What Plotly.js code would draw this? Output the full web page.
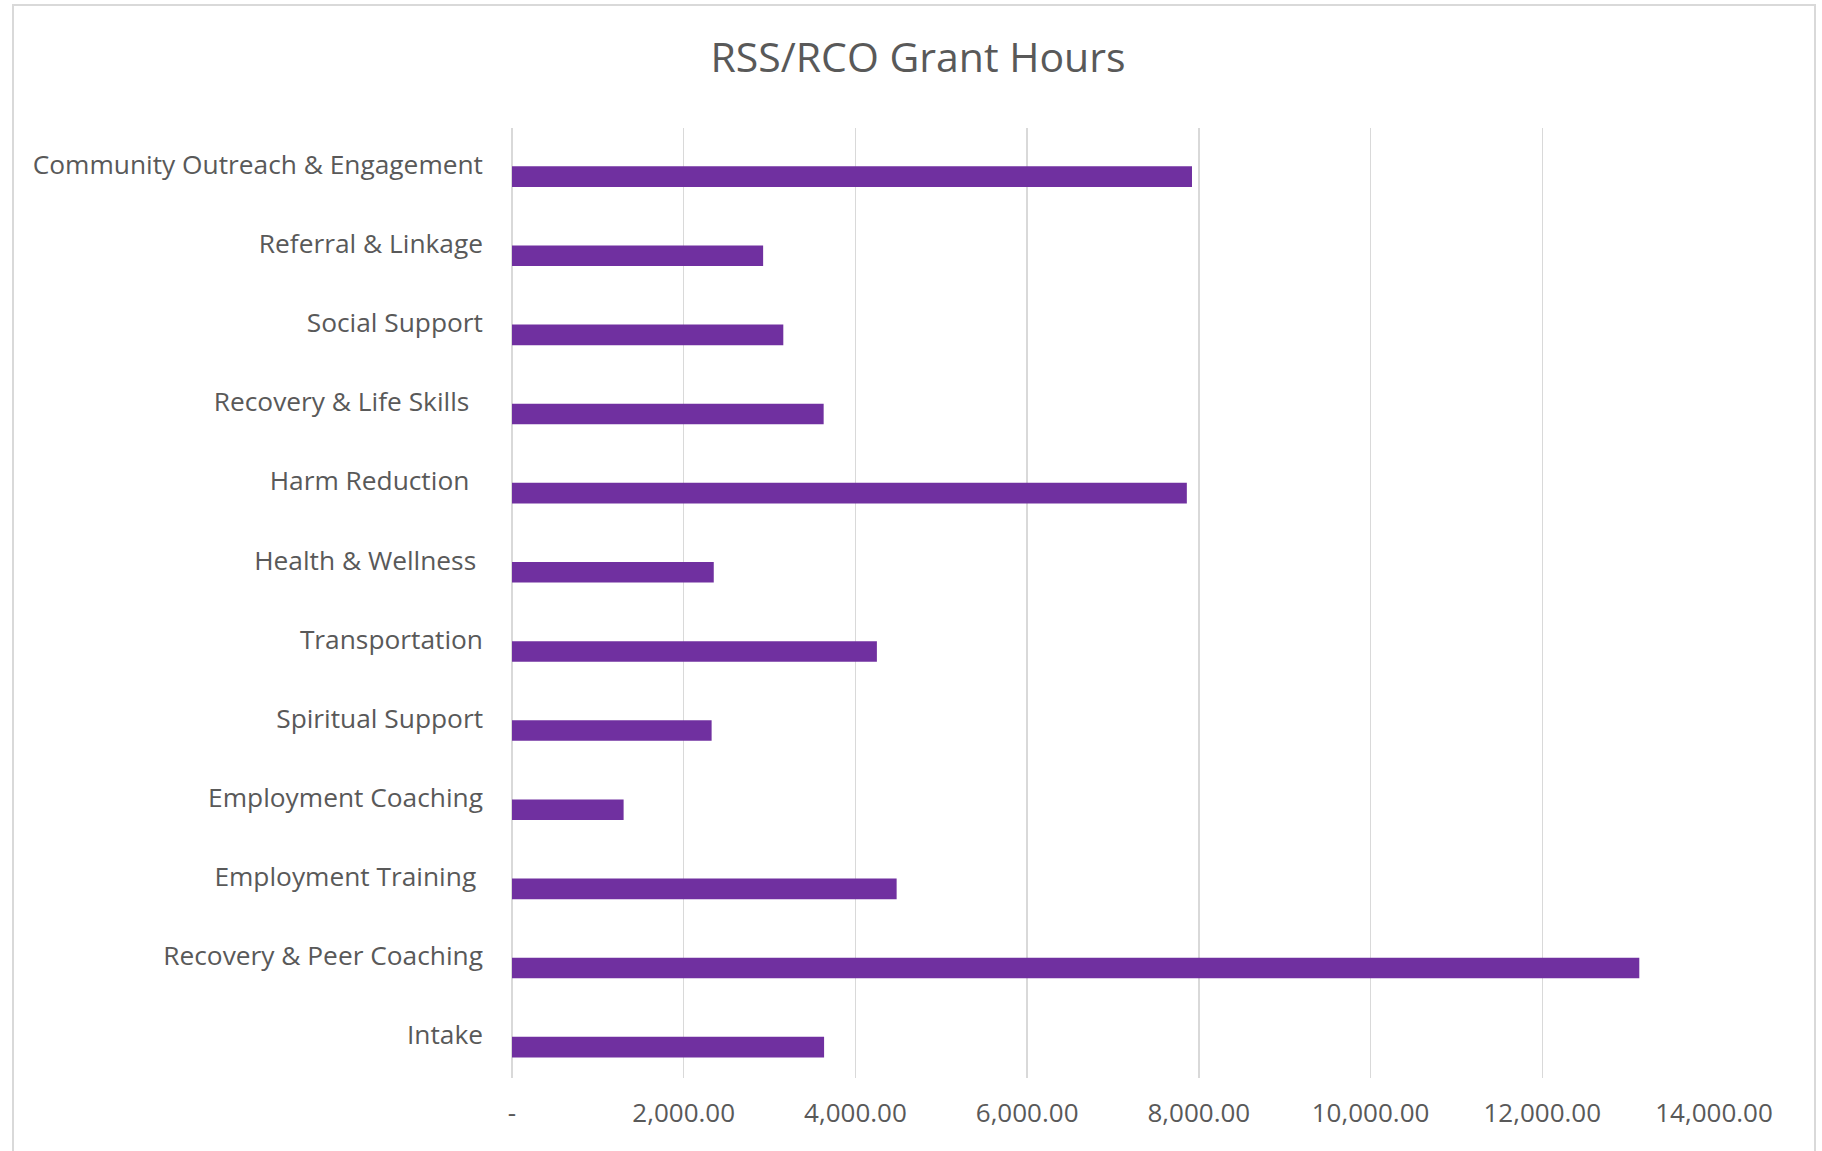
<!DOCTYPE html>
<html>
<head>
<meta charset="utf-8">
<script src="https://cdn.plot.ly/plotly-3.0.1.min.js"></script>
<style>
  html, body { margin: 0; padding: 0; background: #ffffff; }
  #chart { width: 1822px; height: 1151px; }
</style>
</head>
<body>
<div id="chart"></div>
<script>
// Categories listed bottom-to-top (Plotly draws the first category at the bottom)
const categories = [
  "Intake",
  "Recovery & Peer Coaching",
  "Employment Training",
  "Employment Coaching",
  "Spiritual Support",
  "Transportation",
  "Health & Wellness",
  "Harm Reduction",
  "Recovery & Life Skills",
  "Social Support",
  "Referral & Linkage",
  "Community Outreach & Engagement"
];
// Trailing spaces seen in the original labels
const labelTrailingSpaces = [0, 0, 1, 0, 0, 0, 1, 2, 2, 0, 0, 0];

const grantHours = [3635, 13130, 4480, 1300, 2325, 4250, 2350, 7860, 3630, 3160, 2925, 7920];

const xTickValues = [0, 2000, 4000, 6000, 8000, 10000, 12000, 14000];
const xTickLabels = ["-", "2,000.00", "4,000.00", "6,000.00", "8,000.00", "10,000.00", "12,000.00", "14,000.00"];

const chartTitle = "RSS/RCO Grant Hours";

const yTickText = categories.map((c, i) => c + "\u00A0".repeat(labelTrailingSpaces[i]));

const FONT = "Open Sans, Lato, sans-serif";
const GREY_TEXT = "#595959";
const GRID = "#d9d9d9";

const trace = {
  type: "bar",
  orientation: "h",
  y: categories,
  x: grantHours,
  width: 0.26,
  marker: { color: "#7030a0", line: { width: 0 } },
  hoverinfo: "x+y"
};

// plot area in pixels: x 512..1714, y 128..1078
const plotL = 512, plotR = 1714, plotT = 128, plotB = 1078;
const W = 1822, H = 1151;
const px2paperX = p => (p - plotL) / (plotR - plotL);
const px2paperY = p => (plotB - p) / (plotB - plotT);

const layout = {
  width: W,
  height: H,
  margin: { l: plotL, r: W - plotR, t: plotT, b: H - plotB, pad: 0 },
  paper_bgcolor: "#ffffff",
  plot_bgcolor: "#ffffff",
  showlegend: false,
  bargap: 0.75,
  font: { family: FONT, color: GREY_TEXT },
  title: {
    text: chartTitle,
    font: { family: FONT, size: 41, color: GREY_TEXT },
    x: 918 / W,
    xref: "container",
    xanchor: "center",
    y: 1 - 58 / H,
    yref: "container",
    yanchor: "middle"
  },
  xaxis: {
    range: [0, 14000],
    tickmode: "array",
    tickvals: xTickValues,
    ticktext: xTickLabels,
    showgrid: true,
    gridcolor: GRID,
    gridwidth: 1.3,
    zeroline: true,
    zerolinecolor: GRID,
    zerolinewidth: 1.3,
    showline: false,
    ticks: "",
    ticklabelstandoff: 17,
    tickfont: { family: FONT, size: 26, color: GREY_TEXT },
    fixedrange: true
  },
  yaxis: {
    type: "category",
    range: [-0.39, 11.614],
    tickmode: "array",
    tickvals: categories,
    ticktext: yTickText,
    showgrid: false,
    zeroline: false,
    showline: false,
    ticks: "",
    ticklabelstandoff: 28,
    ticklabelshift: -12,
    tickfont: { family: FONT, size: 26.3, color: GREY_TEXT },
    fixedrange: true
  },
  shapes: [
    {
      type: "rect",
      xref: "paper", yref: "paper",
      x0: px2paperX(13), x1: px2paperX(1815),
      y0: px2paperY(1200), y1: px2paperY(5),
      line: { color: "#d9d9d9", width: 2 },
      fillcolor: "rgba(0,0,0,0)",
      layer: "below"
    }
  ]
};

Plotly.newPlot("chart", [trace], layout, { displayModeBar: false, staticPlot: true });
</script>
</body>
</html>
